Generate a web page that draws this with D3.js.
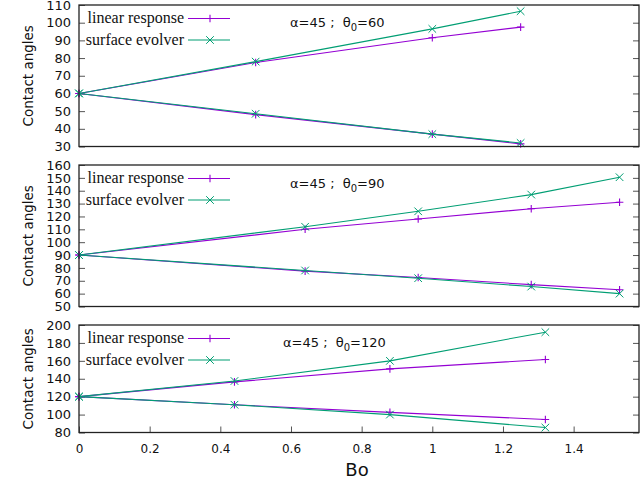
<!DOCTYPE html>
<html lang="en">
<head>
<meta charset="UTF-8">
<title>Contact angles vs Bo</title>
<script src="https://d3js.org/d3.v7.min.js"></script>
<style>
  body { margin: 0; background: #fff; }
  text { font-family: "DejaVu Sans", sans-serif; }
</style>
</head>
<body>
<div id="chart"></div>
<script>
    // data
    const theta0 = [60, 90, 120];

    const bo60 = [0, 0.5, 1.0, 1.25];
    const linUp60 = [60, 77.5, 91.5, 97.5];
    const seUp60 = [60, 78, 96.5, 106.5];
    const linDown60 = [60, 48, 37, 31.5];
    const seDown60 = [60, 48.5, 37, 32];

    const bo90 = [0, 0.64, 0.96, 1.28, 1.53];
    const linUp90 = [90, 110, 118, 126, 131];
    const seUp90 = [90, 112, 124, 137, 150.5];
    const linDown90 = [90, 77.5, 72.5, 67, 63];
    const seDown90 = [90, 78, 72, 65.5, 60];

    const bo120 = [0, 0.44, 0.88, 1.32];
    const linUp120 = [120, 136.5, 151, 161.5];
    const seUp120 = [120, 137.5, 160, 192];
    const linDown120 = [120, 111, 102.5, 94.5];
    const seDown120 = [120, 111, 100, 85.5];

    const yTicks60 = [30, 40, 50, 60, 70, 80, 90, 100, 110];
    const yTicks90 = [50, 60, 70, 80, 90, 100, 110, 120, 130, 140, 150, 160];
    const yTicks120 = [80, 100, 120, 140, 160, 180, 200];
    const xTicks = [0, 0.2, 0.4, 0.6, 0.8, 1, 1.2, 1.4];

    const seriesNames = ["linear response", "surface evolver"];
    const colors = ["#9400d3", "#009e73"];

    const width = 640, height = 480;
    const left = 79, right = 639;

    const svg = d3.select("#chart").append("svg")
        .attr("width", width)
        .attr("height", height);

    const x = d3.scaleLinear().domain([0, 1.585]).range([left, right]);

    const panels = [
        { theta: theta0[0], bo: bo60, lin: [linUp60, linDown60], se: [seUp60, seDown60],
          ticks: yTicks60, top: 5, bottom: 146.5, labelY: 27, labelX: 290 },
        { theta: theta0[1], bo: bo90, lin: [linUp90, linDown90], se: [seUp90, seDown90],
          ticks: yTicks90, top: 165, bottom: 306.5, labelY: 188, labelX: 290 },
        { theta: theta0[2], bo: bo120, lin: [linUp120, linDown120], se: [seUp120, seDown120],
          ticks: yTicks120, top: 325, bottom: 432.5, labelY: 347, labelX: 283 }
    ];

    const m = 3.8;
    function plus(g, px, py, c) {
        g.append("path")
            .attr("d", `M${px - m},${py}H${px + m}M${px},${py - m}V${py + m}`)
            .attr("stroke", c).attr("stroke-width", 1.1);
    }
    function cross(g, px, py, c) {
        g.append("path")
            .attr("d", `M${px - m},${py - m}L${px + m},${py + m}M${px - m},${py + m}L${px + m},${py - m}`)
            .attr("stroke", c).attr("stroke-width", 1);
    }

    panels.forEach((p, pi) => {
        const y = d3.scaleLinear()
            .domain([p.ticks[0], p.ticks[p.ticks.length - 1]])
            .range([p.bottom, p.top]);
        const g = svg.append("g");

        // left ticks + labels
        g.append("g")
            .attr("transform", `translate(${left},0)`)
            .call(d3.axisLeft(y).tickValues(p.ticks).tickSize(-6).tickPadding(8))
            .call(a => a.select(".domain").remove())
            .call(a => a.selectAll("line").attr("stroke", "#555"))
            .call(a => a.selectAll("text").attr("font-size", 13).attr("fill", "#111")
                .style("font-family", "'DejaVu Sans', sans-serif"));
        // mirrored right ticks
        g.append("g")
            .attr("transform", `translate(${right},0)`)
            .call(d3.axisRight(y).tickValues(p.ticks).tickSize(-6).tickFormat(""))
            .call(a => a.select(".domain").remove())
            .call(a => a.selectAll("line").attr("stroke", "#555"));

        if (pi === 2) {
            g.append("g")
                .attr("transform", `translate(0,${p.bottom})`)
                .call(d3.axisBottom(x).tickValues(xTicks).tickSize(-6).tickPadding(12)
                    .tickFormat(d => d3.format("~g")(d)))
                .call(a => a.select(".domain").remove())
                .call(a => a.selectAll("line").attr("stroke", "#555"))
                .call(a => a.selectAll("text").attr("font-size", 12).attr("fill", "#111")
                    .style("font-family", "'DejaVu Sans', sans-serif"));
        }

        // lines
        const line = d3.line().x((d, i) => x(p.bo[i])).y(d => y(d));
        [p.lin, p.se].forEach((pair, si) => {
            pair.forEach(vals => {
                g.append("path")
                    .datum(vals)
                    .attr("d", line)
                    .attr("fill", "none")
                    .attr("stroke", colors[si])
                    .attr("stroke-width", 1.1);
                vals.forEach((v, i) => {
                    if (si === 0) plus(g, x(p.bo[i]), y(v), colors[0]);
                    else cross(g, x(p.bo[i]), y(v), colors[1]);
                });
            });
        });

        // border
        g.append("rect")
            .attr("x", left).attr("y", p.top)
            .attr("width", right - left).attr("height", p.bottom - p.top)
            .attr("fill", "none").attr("stroke", "#222").attr("stroke-width", 1.3);

        // legend
        seriesNames.forEach((name, si) => {
            const ly = p.top + 13.5 + si * 21.5;
            g.append("text")
                .attr("x", 184).attr("y", ly + 4.5)
                .attr("text-anchor", "end")
                .attr("font-size", 16)
                .style("font-family", "'Liberation Serif', 'DejaVu Serif', serif")
                .attr("fill", "#111")
                .text(name);
            g.append("line")
                .attr("x1", 188).attr("x2", 230).attr("y1", ly).attr("y2", ly)
                .attr("stroke", colors[si]).attr("stroke-width", 1.1);
            if (si === 0) plus(g, 210, ly, colors[0]);
            else cross(g, 210, ly, colors[1]);
        });

        // annotation
        const t = g.append("text")
            .attr("x", p.labelX).attr("y", p.labelY)
            .attr("font-size", 13)
            .style("white-space", "pre")
            .attr("fill", "#111");
        t.append("tspan").text("α=45 ;  θ");
        t.append("tspan").attr("font-size", 10).attr("dy", 4).text("0");
        t.append("tspan").attr("dy", -4).text("=" + p.theta);

        // y label
        svg.append("text")
            .attr("transform", `translate(33,${(p.top + p.bottom) / 2}) rotate(-90)`)
            .attr("text-anchor", "middle")
            .attr("font-size", 13.5)
            .attr("fill", "#111")
            .text("Contact angles");
    });

    svg.append("text")
        .attr("x", 357).attr("y", 476)
        .attr("text-anchor", "middle")
        .attr("font-size", 18)
        .attr("fill", "#111")
        .text("Bo");
</script>
</body>
</html>
